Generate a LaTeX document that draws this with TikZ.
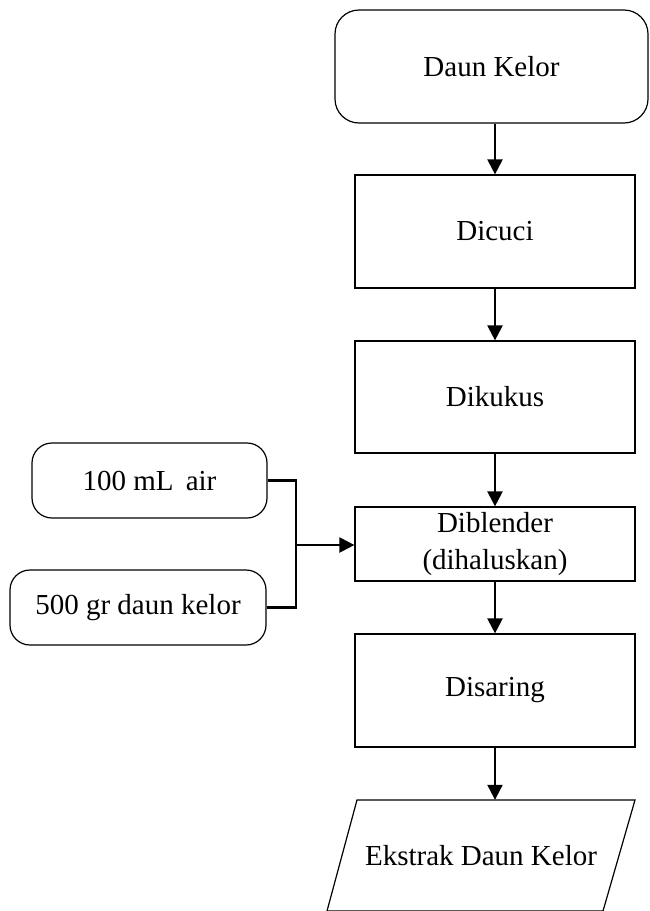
\documentclass[tikz,border=0pt]{standalone}
\usepackage{fontspec}
\setmainfont{Liberation Serif}
\usetikzlibrary{arrows.meta,calc}
\begin{document}
\begin{tikzpicture}[x=1pt,y=-1pt,
  every node/.style={font=\fontsize{29}{37}\selectfont, inner sep=0pt, align=center},
  procbox/.style={draw, line width=1.2pt, minimum width=280pt},
  termbox/.style={draw, line width=1.2pt, rounded corners=24pt},
  inbox/.style={draw, line width=1.2pt, rounded corners=20pt, minimum height=75pt},
  flow/.style={line width=2.2pt, -{Triangle[width=15pt,length=15pt]}},
  link/.style={line width=2.2pt}]
\useasboundingbox (0,0) rectangle (649,911);
\node[termbox, minimum width=313pt, minimum height=113pt] (start) at (491.5,66.5) {Daun Kelor};
\node[procbox, minimum height=113pt] (cuci) at (495,231.5) {Dicuci};
\node[procbox, minimum height=112pt] (kukus) at (495,397) {Dikukus};
\node[procbox, minimum height=74pt] (blend) at (495,544) {\raisebox{-4pt}{\parbox{200pt}{\centering Diblender\\(dihaluskan)}}};
\node[procbox, minimum height=113pt] (saring) at (495,690.5) {Disaring};
\node[minimum width=250pt, minimum height=111pt] (out) at (481,855.5) {Ekstrak Daun Kelor};
\draw[line width=1.2pt] (357,800) -- (635,800) -- (603,911) -- (327,911) -- cycle;
\node[inbox, minimum width=235pt] (air) at (149.5,480.5) {100 mL\ \,air};
\node[inbox, minimum width=256pt] (daun) at (138,607.5) {500 gr daun kelor};
\coordinate (j) at (296,545);
\draw[flow] (start.south -| cuci.north) -- (cuci.north);
\draw[flow] (cuci.south) -- (kukus.north);
\draw[flow] (kukus.south) -- (blend.north);
\draw[flow] (blend.south) -- (saring.north);
\draw[flow] (saring.south) -- (saring.south |- out.north);
\draw[link] (air.east) -| (j) |- (daun.east);
\draw[flow] (j) -- (j -| blend.west);
\end{tikzpicture}
\end{document}
